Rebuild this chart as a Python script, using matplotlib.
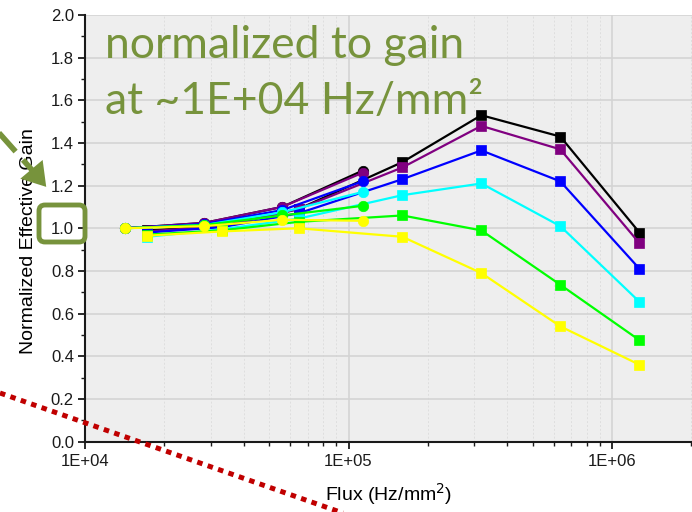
import matplotlib
matplotlib.use("Agg")
import matplotlib.pyplot as plt
from matplotlib.ticker import FixedLocator, LogLocator, NullFormatter, MultipleLocator
from matplotlib.patches import FancyBboxPatch, FancyArrowPatch

# ---- data ----
flux_sq = [1.72e4, 3.3e4, 6.46e4, 1.6e5, 3.19e5, 6.36e5, 1.27e6]
flux_ci = [1.42e4, 2.83e4, 5.6e4, 1.13e5]

colors = ["#000000", "#800080", "#0000ff", "#00ffff", "#00ff00", "#ffff00"]

sq_black  = [0.99, 1.01, 1.09, 1.31, 1.53, 1.43, 0.98]
sq_purple = [0.985, 1.01, 1.09, 1.285, 1.48, 1.37, 0.93]
sq_blue   = [0.98, 1.005, 1.07, 1.23, 1.365, 1.22, 0.81]
sq_cyan   = [0.96, 0.995, 1.045, 1.155, 1.21, 1.01, 0.655]
sq_green  = [0.97, 0.99, 1.03, 1.06, 0.99, 0.735, 0.475]
sq_yellow = [0.965, 0.985, 1.0, 0.96, 0.79, 0.54, 0.36]

ci_black  = [1.0, 1.025, 1.10, 1.27]
ci_purple = [1.0, 1.025, 1.10, 1.26]
ci_blue   = [1.0, 1.02, 1.085, 1.22]
ci_cyan   = [1.0, 1.015, 1.075, 1.17]
ci_green  = [1.0, 1.015, 1.06, 1.105]
ci_yellow = [1.0, 1.01, 1.04, 1.035]

sq_series = [sq_black, sq_purple, sq_blue, sq_cyan, sq_green, sq_yellow]
ci_series = [ci_black, ci_purple, ci_blue, ci_cyan, ci_green, ci_yellow]

x_ticks = [1e4, 1e5, 1e6]
x_ticklabels = ["1E+04", "1E+05", "1E+06"]

W, H = 692, 512
fig = plt.figure(figsize=(W / 100, H / 100), dpi=100)
fig.patch.set_facecolor("white")

left, right, top, bottom = 85, 692, 15, 441.5
ax = fig.add_axes([left / W, 1 - bottom / H, (right - left) / W, (bottom - top) / H])
ax.set_facecolor("#eeeeee")

for vals, c in zip(sq_series, colors):
    ax.plot(flux_sq, vals, color=c, lw=1.6, marker="s", ms=6.5, mec=c, mew=0.5, zorder=3)
for vals, c in zip(ci_series, colors):
    ax.plot(flux_ci, vals, color=c, lw=1.6, marker="o", ms=7.5, mec=c, mew=0.5, zorder=3)

ax.set_xscale("log")
ax.set_xlim(1e4, 2.01e6)
ax.set_ylim(0, 2.0)
ax.xaxis.set_major_locator(FixedLocator(x_ticks))
ax.set_xticklabels(x_ticklabels, fontsize=12, family="Liberation Sans")
ax.xaxis.set_minor_locator(LogLocator(base=10, subs=range(2, 10)))
ax.xaxis.set_minor_formatter(NullFormatter())
ax.set_yticks([i * 0.2 for i in range(11)])
ax.set_yticklabels([f"{i * 0.2:.1f}" for i in range(11)], fontsize=12, family="Liberation Sans")
ax.yaxis.set_minor_locator(MultipleLocator(0.1))

ax.grid(True, which="major", axis="both", color="#d4d4d4", lw=1.2, ls="-", zorder=0)
ax.grid(True, which="minor", axis="x", color="#dedede", lw=0.7, ls=(0, (2, 2)), zorder=0)
ax.set_axisbelow(True)

for s in ["top", "right"]:
    ax.spines[s].set_visible(False)
for s in ["left", "bottom"]:
    ax.spines[s].set_linewidth(1.5)
    ax.spines[s].set_color("#1a1a1a")
ax.tick_params(which="major", direction="out", length=5, width=1.3, pad=3, colors="#1a1a1a")
ax.tick_params(which="minor", direction="out", length=3, width=1.0, colors="#1a1a1a")
ax.tick_params(axis="x", which="major", pad=4)

ax.set_ylabel("Normalized Effective Gain", fontsize=14, family="Liberation Sans")
ax.yaxis.set_label_coords((37 - left) / (right - left), (bottom - 241) / (bottom - top))
ax.set_xlabel("Flux (Hz/mm$^2$)", fontsize=14, family="Liberation Sans", labelpad=9)

# ---- overlay annotations in pixel coordinates ----
ov = fig.add_axes([0, 0, 1, 1], zorder=10)
ov.set_xlim(0, W)
ov.set_ylim(H, 0)
ov.axis("off")
ov.patch.set_alpha(0)

green = "#77933c"
ov.plot([0, 360], [393, 519], color="#c00000", lw=3.6, ls=(0, (1.1, 1.1)),
        dash_capstyle="butt")

box = FancyBboxPatch((39, 205), 46, 37, boxstyle="round,pad=0,rounding_size=6",
                     fill=False, ec=green, lw=3.5)
ov.add_patch(box)

ov.plot([-8, 32], [125, 170], color=green, lw=4, ls=(0, (4.5, 2)))
arr = FancyArrowPatch((27, 164), (48, 189), arrowstyle="-|>,head_length=1.1,head_width=0.7",
                      mutation_scale=15, color=green, lw=0)
ov.add_patch(arr)

ov.text(105, 58, "normalized to gain", color=green, fontsize=32, family="Lato",
        ha="left", va="baseline")
ov.text(105, 114, "at ~1E+04 Hz/mm²", color=green, fontsize=32, family="Lato",
        ha="left", va="baseline")

fig.savefig("out.png", dpi=100)
